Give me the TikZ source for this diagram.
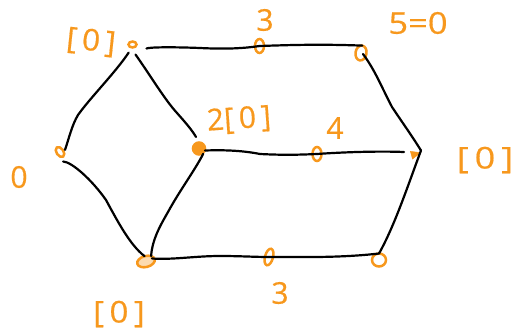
\documentclass[tikz,border=0pt]{standalone}
\usepackage{fontspec}
\setmainfont{Open Sans}
\newfontfamily\penfont{Open Sans}[FakeBold=0.5]
\usetikzlibrary{shapes.geometric}
\definecolor{pen}{HTML}{F7981D}
\tikzset{
  x=1pt,y=-1pt,
  dotnode/.style={draw=pen,ellipse,line width=2.5pt,inner sep=0pt,outer sep=0pt},
  hand/.style={text=pen,inner sep=0pt,font=\fontsize{30}{30}\selectfont\penfont},
  edgeline/.style={draw=black,line width=2.2pt,line cap=round,line join=round},
}
\begin{document}
\begin{tikzpicture}
\useasboundingbox (0,0) rectangle (521,331);
% vertices
\node[dotnode,minimum width=8pt,minimum height=6pt] (a) at (132.5,44.5) {};
\node[dotnode,minimum width=7pt,minimum height=11pt,rotate=35] (b) at (60,152) {};
\node[dotnode,minimum width=12pt,minimum height=12pt,fill=pen] (c) at (199,148.5) {};
\node[dotnode,minimum width=18pt,minimum height=11pt,rotate=15,fill=pen!35] (d) at (146,261.5) {};
\node[dotnode,minimum width=9pt,minimum height=14pt] (e) at (259.5,46) {};
\node[dotnode,minimum width=11pt,minimum height=15pt,rotate=-10] (f) at (361,53) {};
\node[dotnode,minimum width=9pt,minimum height=14pt] (g) at (317,154) {};
\node[draw=pen,fill=pen,isosceles triangle,inner sep=0pt,minimum width=8pt,minimum height=8pt,rotate=15] (h) at (414,154.5) {};
\node[dotnode,minimum width=8pt,minimum height=17pt,rotate=-15] (i) at (269,257) {};
\node[dotnode,minimum width=14pt,minimum height=13pt] (j) at (379,260) {};
\coordinate (k) at (421,150.5);
% connectors
\draw[edgeline] (a.south west) ++(-1,6) .. controls (115,73) and (90,98) .. (78,115) .. controls (72,125) and (69,138) .. (65,150);
\draw[edgeline] (a.south) ++(3,7) .. controls (150,75) and (165,100) .. (177,113) .. controls (185,122) and (192,130) .. (196,137);
\draw[edgeline] (a.east) ++(10,4) .. controls (150,47) and (175,47) .. (200,48) .. controls (220,49) and (240,49) .. (e.center);
\draw[edgeline] (e.center) .. controls (290,45) and (320,44) .. (f.north);
\draw[edgeline] (f.center) ++(2,1) .. controls (375,70) and (382,88) .. (392,107) .. controls (402,122) and (412,136) .. (k);
\draw[edgeline] (c.east) ++(0,2) .. controls (220,150) and (240,150) .. (260,154) .. controls (280,155) and (295,155) .. (g.center);
\draw[edgeline] (g.center) .. controls (345,152) and (380,151) .. (404,152);
\draw[edgeline] (b.south) ++(0,5) .. controls (72,162) and (92,180) .. (106,200) .. controls (118,222) and (130,245) .. (d.north);
\draw[edgeline] (c.south east) ++(0,1) .. controls (195,170) and (180,190) .. (168,212) .. controls (160,226) and (152,240) .. (d.north east);
\draw[edgeline] (d.center) ++(6,-3) .. controls (172,260) and (195,256) .. (220,256) .. controls (240,256) and (255,257) .. (i.center);
\draw[edgeline] (i.center) .. controls (300,257) and (340,258) .. (j.north);
\draw[edgeline] (j.north) .. controls (395,225) and (408,185) .. (k);
% labels
\node[hand,rotate=-6,xscale=1.05] (la) at (91,42) {[\,0\,]};
\node[hand] (le) at (265,20) {3};
\node[hand,xscale=1.15] (lf) at (418,23) {5=0};
\node[hand,rotate=4] (lc) at (239,120) {2[\,0\,]};
\node[hand] (lg) at (335,128) {4};
\node[hand,xscale=1.2] (lh) at (485,160) {[\,0\,]};
\node[hand] (lb) at (19,177) {0};
\node[hand,xscale=1.1] (ld) at (119,314) {[\,0\,]};
\node[hand] (li) at (280,293) {3};
\end{tikzpicture}
\end{document}
